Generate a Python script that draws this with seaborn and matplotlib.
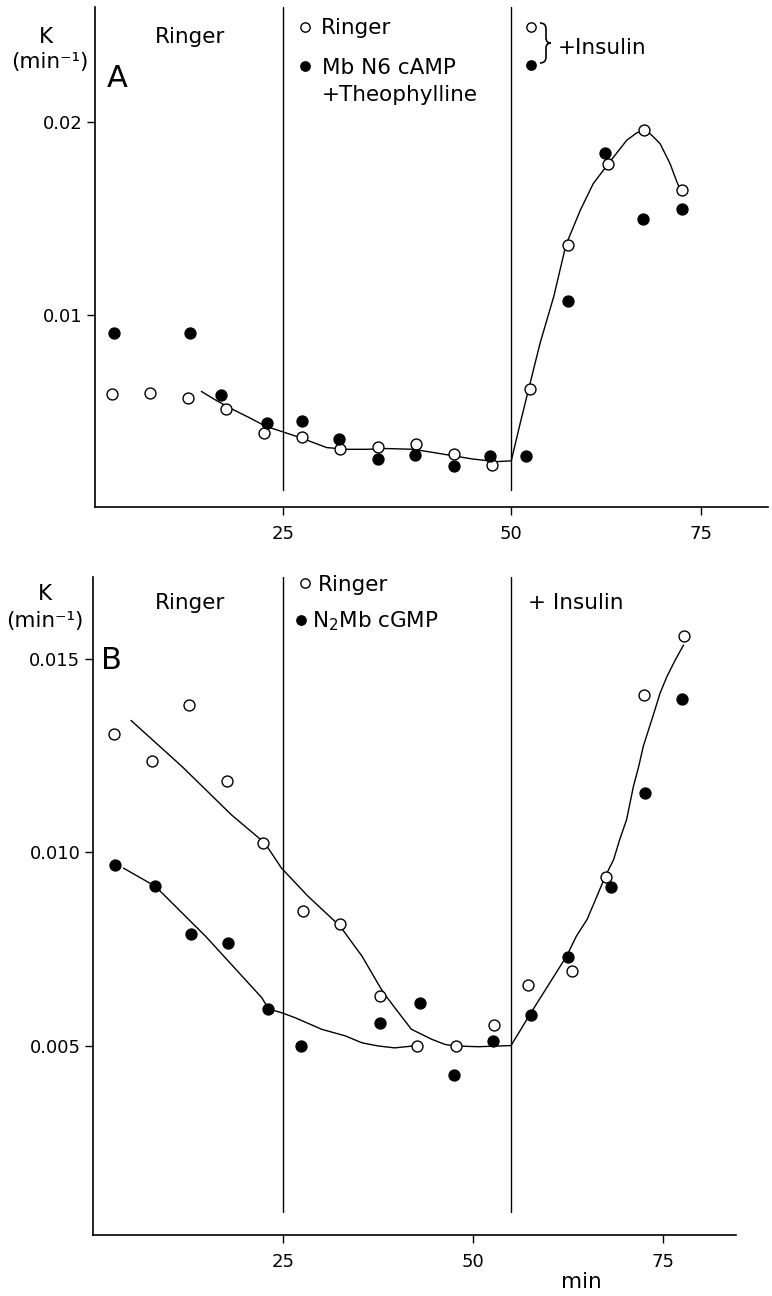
import numpy as np
import pandas as pd
import seaborn as sns
import matplotlib
matplotlib.use("Agg")
import matplotlib.pyplot as plt
from matplotlib.path import Path
from matplotlib.patches import PathPatch

# ---------------- data: panel A ----------------
a_open_t = [2.5, 7.5, 12.5, 17.5, 22.5, 27.5, 32.5, 37.5, 42.5, 47.5, 52.5, 57.5, 62.5, 67.8, 72.5, 77.5]
a_open_k = [0.00589, 0.00594, 0.00568, 0.00508, 0.00387, 0.00366, 0.00301, 0.00313,
            0.00326, 0.00275, 0.00218, 0.00615, 0.01363, 0.01786, 0.01962, 0.01651]
a_fill_t = [2.7, 12.7, 16.8, 22.8, 27.4, 32.3, 37.4, 42.3, 47.4, 52.2, 57.0, 62.5, 67.4, 72.4, 77.5]
a_fill_k = [0.00905, 0.00905, 0.00585, 0.00439, 0.00447, 0.00356, 0.00252, 0.00269,
            0.00214, 0.00266, 0.00266, 0.01073, 0.01841, 0.01497, 0.01548]
a_curve_t = [14.2, 16.3, 18.5, 20.5, 22.6, 24.6, 27.2, 30.7, 33.4, 36.0, 38.6, 42.1, 44.8,
             50.0, 53.1, 55.0, 56.2, 57.3, 58.8, 60.6, 62.2, 64.1, 65.8, 67.8, 70.2, 71.5,
             72.6, 73.5, 74.6, 75.9, 76.8, 77.2]
a_curve_k = [0.00601, 0.00551, 0.00504, 0.00465, 0.00421, 0.00395, 0.00361, 0.00309, 0.00300,
             0.00300, 0.00304, 0.00300, 0.00283, 0.00249, 0.00236, 0.00240, 0.00439, 0.00615,
             0.00853, 0.01095, 0.01363, 0.01544, 0.01682, 0.01786, 0.01907, 0.01945, 0.01962,
             0.01933, 0.01889, 0.01786, 0.01691, 0.01655]
a_vlines = [25, 55]
a_xticks = [25, 55, 80]
a_xticklabels = ["25", "50", "75"]
a_yticks = [0.01, 0.02]
a_yticklabels = ["0.01", "0.02"]

# ---------------- data: panel B ----------------
b_open_t = [2.7, 7.7, 12.6, 17.6, 22.4, 27.6, 32.5, 37.7, 42.6, 47.7, 52.8, 57.2, 63.0, 67.5, 72.5, 77.8]
b_open_k = [0.01306, 0.01237, 0.01380, 0.01184, 0.01024, 0.00847, 0.00814, 0.00627,
            0.00500, 0.00499, 0.00553, 0.00656, 0.00693, 0.00935, 0.01407, 0.01560]
b_fill_t = [2.9, 8.1, 12.9, 17.7, 23.0, 27.4, 37.8, 43.0, 47.5, 52.6, 57.6, 62.5, 68.2, 72.6, 77.5]
b_fill_k = [0.00967, 0.00912, 0.00788, 0.00765, 0.00594, 0.00500, 0.00559, 0.00610,
            0.00423, 0.00511, 0.00579, 0.00729, 0.00909, 0.01154, 0.01397]
b_ringer_curve_t = [5.0, 11.7, 18.2, 22.6, 24.8, 28.3, 32.5, 35.4, 37.8, 38.4, 39.7, 41.9,
                    44.6, 46.3, 47.6, 50.7, 55.0]
b_ringer_curve_k = [0.01341, 0.01222, 0.01097, 0.01024, 0.00959, 0.00886, 0.00809, 0.00731,
                    0.00650, 0.00632, 0.00598, 0.00542, 0.00516, 0.00503, 0.00499, 0.00497,
                    0.00500]
b_drug_curve_t = [4.0, 8.2, 12.8, 14.8, 22.2, 23.1, 24.8, 26.6, 30.1, 33.2, 35.4, 37.5,
                  39.7, 42.6]
b_drug_curve_k = [0.00959, 0.00912, 0.00822, 0.00783, 0.00624, 0.00595, 0.00585, 0.00572,
                  0.00542, 0.00525, 0.00507, 0.00499, 0.00494, 0.00500]
b_ins_curve_t = [55.0, 57.5, 62.3, 63.6, 65.0, 66.3, 67.4, 68.5, 69.3, 70.2, 71.1, 71.8,
                 72.4, 73.8, 74.6, 75.5, 76.6, 77.7]
b_ins_curve_k = [0.00500, 0.00581, 0.00731, 0.00783, 0.00826, 0.00886, 0.00938, 0.00981,
                 0.01033, 0.01084, 0.01170, 0.01222, 0.01274, 0.01360, 0.01411, 0.01454,
                 0.01497, 0.01536]
b_vlines = [25, 55]
b_xticks = [25, 50, 75]
b_xticklabels = ["25", "50", "75"]
b_yticks = [0.005, 0.010, 0.015]
b_yticklabels = ["0.005", "0.010", "0.015"]

# ---------------- style ----------------
sns.set_style("ticks")
plt.rcParams["font.family"] = ["DejaVu Sans"]
plt.rcParams["mathtext.fontset"] = "dejavusans"

W, H = 772, 1296
fig = plt.figure(figsize=(W / 100, H / 100), dpi=100)


def fx(px):
    return px / W


def fy(py):
    return 1 - py / H


axA = fig.add_axes([fx(95), fy(507), (768 - 95) / W, (507 - 7) / H])
axB = fig.add_axes([fx(93), fy(1235), (736 - 93) / W, (1235 - 577) / H])

MS = 62
LW = 1.0


def draw_panel(ax, open_t, open_k, fill_t, fill_k, curves, vlines):
    for ct, ck in curves:
        sns.lineplot(x=ct, y=ck, ax=ax, sort=False, estimator=None, color="black",
                     linewidth=1.0, zorder=2)
    sns.scatterplot(x=open_t, y=open_k, ax=ax, s=MS, color="white", edgecolor="black",
                    linewidth=LW, zorder=4)
    sns.scatterplot(x=fill_t, y=fill_k, ax=ax, s=MS, color="black", edgecolor="black",
                    linewidth=LW, zorder=4)
    for v in vlines:
        ax.axvline(v, ymin=0.035, ymax=1.0, color="black", linewidth=1.0, zorder=1)
    for sp in ["top", "right"]:
        ax.spines[sp].set_visible(False)
    for sp in ["left", "bottom"]:
        ax.spines[sp].set_linewidth(1.2)
        ax.spines[sp].set_color("black")
    ax.tick_params(axis="both", direction="out", length=6, width=1.0, colors="black",
                   labelsize=13)
    ax.tick_params(axis="y", pad=3)
    ax.tick_params(axis="x", pad=7)
    ax.set_xlabel("")
    ax.set_ylabel("")
    ax.set_facecolor("white")


draw_panel(axA, a_open_t, a_open_k, a_fill_t, a_fill_k, [(a_curve_t, a_curve_k)], a_vlines)
axA.set_xlim(0.2, 88.8)
axA.set_ylim(0, 0.026)
axA.set_xticks(a_xticks, a_xticklabels)
axA.set_yticks(a_yticks, a_yticklabels)

draw_panel(axB, b_open_t, b_open_k, b_fill_t, b_fill_k,
           [(b_ringer_curve_t, b_ringer_curve_k), (b_drug_curve_t, b_drug_curve_k),
            (b_ins_curve_t, b_ins_curve_k)], b_vlines)
axB.set_xlim(0.0, 84.6)
axB.set_ylim(0.0001, 0.01712)
axB.set_xticks(b_xticks, b_xticklabels)
axB.set_yticks(b_yticks, b_yticklabels)

FS = 15.5


def T(x, y, s, size=FS, ha="left"):
    fig.text(fx(x), fy(y), s, fontsize=size, ha=ha, va="baseline", color="black")


def legend_marker(x, y, filled, size=45):
    fig.add_artist(plt.Line2D([fx(x)], [fy(y)], marker="o", markersize=np.sqrt(size),
                              markerfacecolor="black" if filled else "white",
                              markeredgecolor="black", markeredgewidth=1.0,
                              linestyle="none", transform=fig.transFigure))


# panel A texts
T(46, 43, "K", ha="center")
T(50, 68, "(min\u207b\u00b9)", ha="center")
T(107, 87, "A", size=22)
T(190, 43, "Ringer", ha="center")
legend_marker(305, 27, False)
T(321, 34, "Ringer")
legend_marker(305, 66, True)
T(322, 74, "Mb N6 cAMP")
T(322, 101, "+Theophylline")
legend_marker(531, 27, False)
legend_marker(531, 65, True)
T(558, 54, "+Insulin")

# brace
bv = [(540, 23), (546, 23), (546, 29), (546, 38), (546, 43), (551, 43),
      (546, 43), (546, 48), (546, 57), (546, 63), (540, 63)]
bc = [Path.MOVETO, Path.CURVE3, Path.CURVE3, Path.LINETO, Path.CURVE3, Path.CURVE3,
      Path.CURVE3, Path.CURVE3, Path.LINETO, Path.CURVE3, Path.CURVE3]
brace = Path([(fx(x), fy(y)) for x, y in bv], bc)
fig.add_artist(PathPatch(brace, facecolor="none", edgecolor="black", linewidth=1.2,
                         transform=fig.transFigure))

# panel B texts
T(45, 600, "K", ha="center")
T(45, 627, "(min\u207b\u00b9)", ha="center")
T(101, 669, "B", size=22)
T(190, 609, "Ringer", ha="center")
legend_marker(305, 583, False)
T(318, 591, "Ringer")
legend_marker(301, 620, True)
T(312, 627, "N$_2$Mb cGMP")
T(528, 609, "+ Insulin")
T(581, 1288, "min", ha="center")

fig.savefig("out.png", dpi=100, facecolor="white")
